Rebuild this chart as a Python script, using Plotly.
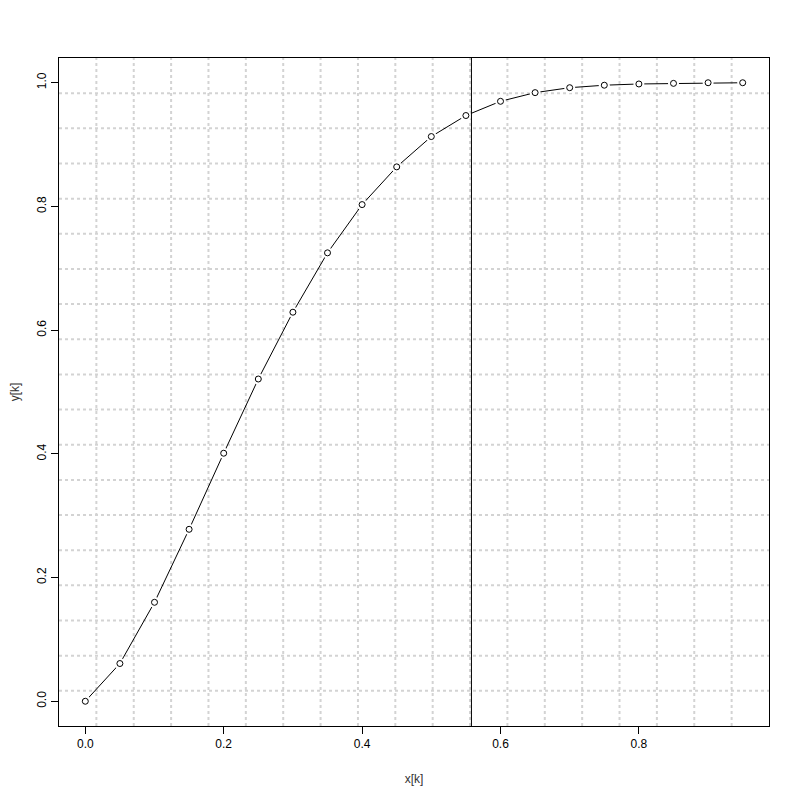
import numpy as np
import plotly.graph_objects as go

x_k = [0.0, 0.05, 0.10, 0.15, 0.20, 0.25, 0.30, 0.35, 0.40, 0.45,
       0.50, 0.55, 0.60, 0.65, 0.70, 0.75, 0.80, 0.85, 0.90, 0.95]
y_k = [0.0, 0.061, 0.160, 0.278, 0.401, 0.521, 0.629, 0.725, 0.803, 0.864,
       0.913, 0.947, 0.970, 0.984, 0.992, 0.996, 0.998, 0.999, 1.0, 1.0]
v_line = 0.558

x_ticks = [0.0, 0.2, 0.4, 0.6, 0.8]
y_ticks = [0.0, 0.2, 0.4, 0.6, 0.8, 1.0]

# R-style ranges (4% padding)
xr = [-0.038, 0.988]
yr = [-0.04, 1.04]

fig = go.Figure()

# grid(19, 19) style dotted lines
grid_style = dict(color="#d3d3d3", width=2, dash="3px,3px")
for i in range(1, 19):
    gx = xr[0] + (xr[1] - xr[0]) * i / 19
    gy = yr[0] + (yr[1] - yr[0]) * i / 19
    fig.add_shape(type="line", x0=gx, x1=gx, y0=0, y1=1, xref="x", yref="paper",
                  line=grid_style, layer="below")
    fig.add_shape(type="line", y0=gy, y1=gy, x0=0, x1=1, yref="y", xref="paper",
                  line=grid_style, layer="below")

fig.add_trace(go.Scatter(x=x_k, y=y_k, mode="lines",
                         line=dict(color="black", width=1), showlegend=False))
# white discs to give the type="b" gaps
fig.add_trace(go.Scatter(x=x_k, y=y_k, mode="markers",
                         marker=dict(symbol="circle", size=11, color="white", line=dict(width=0)),
                         showlegend=False))
fig.add_trace(go.Scatter(x=x_k, y=y_k, mode="markers",
                         marker=dict(symbol="circle-open", size=6, color="black", line=dict(width=1)),
                         showlegend=False))

fig.add_shape(type="line", x0=v_line, x1=v_line, y0=0, y1=1, xref="x", yref="paper",
              line=dict(color="black", width=1))

axis_font = dict(family="Liberation Sans, Arial", size=12, color="black")
fig.update_layout(
    width=800, height=800,
    margin=dict(l=51, r=39, t=50, b=82),
    plot_bgcolor="white", paper_bgcolor="white",
    font=axis_font,
    xaxis=dict(range=xr, tickvals=x_ticks, ticktext=[f"{v:.1f}" for v in x_ticks],
               showgrid=False, zeroline=False, showline=True, mirror=True,
               linecolor="black", linewidth=1, ticks="outside", ticklen=7,
               tickcolor="black", automargin=False,
               title=dict(text="x[k]", standoff=24, font=dict(size=12, color="#333"))),
    yaxis=dict(range=yr, tickvals=y_ticks, ticktext=[f"{v:.1f}" for v in y_ticks],
               tickangle=-90, showgrid=False, zeroline=False, showline=True, mirror=True,
               linecolor="black", linewidth=1, ticks="outside", ticklen=7,
               tickcolor="black", automargin=False,
               title=dict(text="y[k]", standoff=19, font=dict(size=12, color="#333"))),
)

fig.write_html("out.html")
